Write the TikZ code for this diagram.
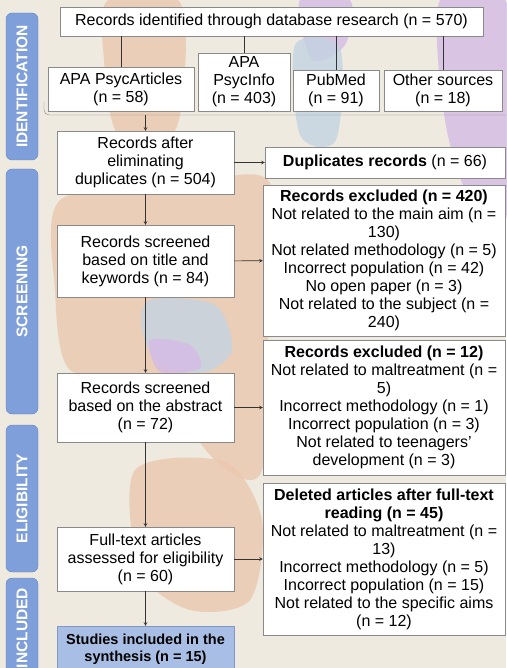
\documentclass[tikz,border=0pt]{standalone}
\usepackage{fontspec}
\setmainfont{Liberation Sans}
\definecolor{paper}{HTML}{EEEAE0}
\definecolor{blobo}{HTML}{EBC7AD}
\definecolor{blobp}{HTML}{D4BBE6}
\definecolor{blobb}{HTML}{C3D3E2}
\definecolor{tabblue}{HTML}{7F9FDA}
\definecolor{tabedge}{HTML}{6286C8}
\definecolor{incblue}{HTML}{A9BEE4}
\definecolor{incedge}{HTML}{8098C6}
\definecolor{boxedge}{HTML}{8A8A8A}
\tikzset{
  flowbox/.style={draw=boxedge, fill=white, align=center, inner sep=2pt,
    font=\fontsize{16}{18}\selectfont},
  sidetab/.style={draw=tabedge, fill=tabblue, rounded corners=6pt, rotate=90,
    text=white, minimum height=32pt, font=\fontsize{15.5}{18}\selectfont\bfseries},
  link/.style={draw=black!80, line width=0.6pt},
}
\begin{document}
\begin{tikzpicture}[x=1pt,y=-1pt,>=stealth]
  \useasboundingbox (0,0) rectangle (506,668);
  \fill[paper] (0,0) rectangle (506,668);
  % painted background
  \begin{scope}[opacity=0.8]
  \fill[blobo] plot[smooth cycle] coordinates {(108,0) (178,0) (185,70) (172,135) (118,135) (104,60)};
  \fill[blobo] plot[smooth cycle] coordinates {(60,200) (170,188) (268,180) (268,300) (262,470) (215,460) (150,380) (70,370) (55,290)};
  \fill[blobb] plot[smooth cycle] coordinates {(150,300) (215,305) (232,350) (205,372) (160,365) (142,330)};
  \fill[blobp] plot[smooth cycle] coordinates {(150,340) (190,345) (200,368) (160,372)};
  \fill[blobo] plot[smooth cycle] coordinates {(135,470) (225,462) (262,520) (250,600) (190,610) (140,570)};
  \fill[blobp] plot[smooth cycle] coordinates {(300,0) (350,0) (345,45) (312,60)};
  \fill[blobb] plot[smooth cycle] coordinates {(295,45) (340,48) (336,140) (300,135)};
  \fill[blobp] plot[smooth cycle] coordinates {(440,0) (506,0) (506,220) (470,200) (445,120)};
  \end{scope}

  \node[sidetab, minimum width=147pt] (tabid) at (22,86.5) {IDENTIFICATION};
  \node[sidetab, minimum width=245pt] (tabscr) at (22,291.5) {SCREENING};
  \node[sidetab, minimum width=147pt] (tabelig) at (22,498.5) {ELIGIBILITY};
  \node[sidetab, minimum width=100pt] (tabinc) at (22,628) {INCLUDED};

  \node[flowbox, minimum width=423pt, minimum height=29pt] (found) at (271.5,21.5) {Records identified through database research (n = 570)};
  \node[flowbox, minimum width=146pt, minimum height=44pt] (psycart) at (121,89) {APA PsycArticles\\(n = 58)};
  \node[flowbox, minimum width=92pt, minimum height=58pt] (psycinfo) at (244,82) {APA\\PsycInfo\\(n = 403)};
  \node[flowbox, minimum width=86pt, minimum height=41pt] (pubmed) at (336,90.5) {PubMed\\(n = 91)};
  \node[flowbox, minimum width=118pt, minimum height=41pt] (othersrc) at (443,90.5) {Other sources\\(n = 18)};

  \node[flowbox, minimum width=177pt, minimum height=63pt] (elim) at (145.5,162.5) {Records after\\eliminating\\duplicates (n = 504)};
  \node[flowbox, minimum width=177pt, minimum height=72pt] (title) at (145.5,261) {Records screened\\based on title and\\keywords (n = 84)};
  \node[flowbox, minimum width=177pt, minimum height=69pt] (abstract) at (145.5,407.5) {Records screened\\based on the abstract\\(n = 72)};
  \node[flowbox, minimum width=177pt, minimum height=64pt] (fulltext) at (145.5,559) {Full-text articles\\assessed for eligibility\\(n = 60)};
  \node[flowbox, fill=incblue, draw=incedge, minimum width=177pt, minimum height=46pt,
    font=\fontsize{14.5}{16.7}\selectfont\bfseries] (synth) at (145.5,649) {Studies included in the\\synthesis (n = 15)};

  \node[flowbox, minimum width=240pt, minimum height=31pt] (dup) at (385,162.5) {\textbf{Duplicates records} (n = 66)};
  \node[flowbox, minimum width=242pt, minimum height=151pt] (excla) at (384,260.5) {\textbf{Records excluded (n = 420)}\\Not related to the main aim (n =\\130)\\Not related methodology (n = 5)\\Incorrect population (n = 42)\\No open paper (n = 3)\\Not related to the subject (n =\\240)};
  \node[flowbox, minimum width=242pt, minimum height=135pt] (exclb) at (384,407.5) {\textbf{Records excluded (n = 12)}\\Not related to maltreatment (n =\\5)\\Incorrect methodology (n = 1)\\Incorrect population (n = 3)\\Not related to teenagers’\\development (n = 3)};
  \node[flowbox, minimum width=242pt, minimum height=152pt] (deleted) at (384,559) {\textbf{Deleted articles after full-text}\\\textbf{reading (n = 45)}\\Not related to maltreatment (n =\\13)\\Incorrect methodology (n = 5)\\Incorrect population (n = 15)\\Not related to the specific aims\\(n = 12)};

  \coordinate (joinL) at (44,102);
  \coordinate (joinR) at (506,115);
  \draw[boxedge, rounded corners=5pt] (joinL) |- (joinR);
  \draw[link,->] (elim.north |- joinR) -- (elim.north);
  \foreach \src in {psycart,psycinfo,pubmed,othersrc}
    \draw[link] (found.south -| \src.north) -- (\src.north);
  \foreach \a/\b in {elim/title,title/abstract,abstract/fulltext,fulltext/synth}
    \draw[link,->] (\a) -- (\b);
  \foreach \a/\b in {elim/dup,title/excla,abstract/exclb,fulltext/deleted}
    \draw[link,->] (\a) -- (\b);
\end{tikzpicture}
\end{document}
